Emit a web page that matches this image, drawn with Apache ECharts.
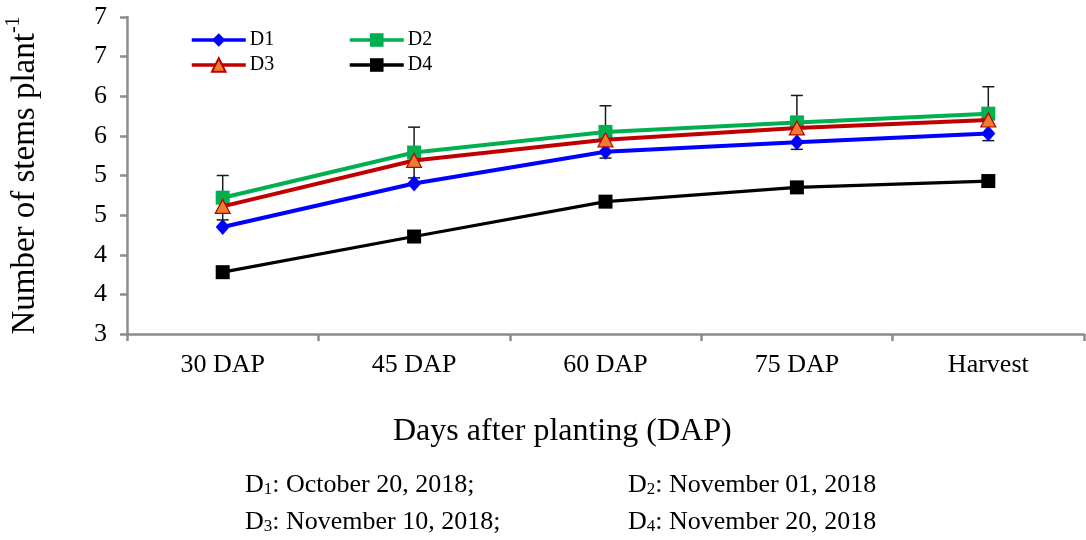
<!DOCTYPE html>
<html>
<head>
<meta charset="utf-8">
<script src="https://cdn.jsdelivr.net/npm/echarts@6/dist/echarts.min.js"></script>
<style>
html,body{margin:0;padding:0;background:#fff;}
#chart{width:1086px;height:540px;}
</style>
</head>
<body>
<div id="chart"></div>
<script>
const categories = ['30 DAP', '45 DAP', '60 DAP', '75 DAP', 'Harvest'];
const d1 = [4.35, 4.90, 5.30, 5.42, 5.53];
const d2 = [4.72, 5.29, 5.55, 5.67, 5.78];
const d3 = [4.61, 5.19, 5.45, 5.60, 5.70];
const d4 = [3.78, 4.23, 4.67, 4.85, 4.93];
const d2Err = [0.28, 0.32, 0.33, 0.34, 0.34];
const yTickLabels = ['3', '4', '4', '5', '5', '6', '6', '7', '7'];
const seriesNames = ['D1', 'D2', 'D3', 'D4'];
const noteLines = [
  ['D', '1', ': October 20, 2018;'],
  ['D', '2', ': November 01, 2018'],
  ['D', '3', ': November 10, 2018;'],
  ['D', '4', ': November 20, 2018']
];

const FONT = "'Liberation Serif', 'Times New Roman', serif";
const AXIS_GRAY = '#8c8c8c';

const chart = echarts.init(document.getElementById('chart'), null, {renderer: 'canvas'});

function legendItem(name, left, top) {
  return {
    data: [name], left: left, top: top, padding: 0,
    itemWidth: 54, itemHeight: 17, itemGap: 0,
    lineStyle: {width: 3.5},
    textStyle: {fontFamily: FONT, fontSize: 20, color: '#000', padding: [0, 0, 0, -1]},
    selectedMode: false
  };
}

const noteRich = {
  m: {fontFamily: FONT, fontSize: 26, fill: '#000', lineHeight: 30, verticalAlign: 'bottom'},
  s: {fontFamily: FONT, fontSize: 17, fill: '#000', lineHeight: 13, verticalAlign: 'bottom'}
};
function noteText(parts, left, top) {
  return {
    type: 'text', left: left, top: top,
    style: {text: '{m|' + parts[0] + '}{s|' + parts[1] + '}{m|' + parts[2] + '}', rich: noteRich}
  };
}

const option = {
  animation: false,
  backgroundColor: '#fff',
  textStyle: {fontFamily: FONT},
  grid: {left: 127, right: 2, top: 17, bottom: 206, containLabel: false, outerBoundsMode: 'none'},
  legend: [
    legendItem(seriesNames[0], 190, 30),
    legendItem(seriesNames[1], 348, 30),
    legendItem(seriesNames[2], 190, 55),
    legendItem(seriesNames[3], 348, 55)
  ],
  xAxis: {
    type: 'category',
    data: categories,
    boundaryGap: true,
    axisLine: {show: true, lineStyle: {color: AXIS_GRAY, width: 2.5}},
    axisTick: {show: true, length: 7, inside: false, lineStyle: {color: AXIS_GRAY, width: 2.5}},
    axisLabel: {fontFamily: FONT, fontSize: 26, color: '#000', margin: 18},
    splitLine: {show: false}
  },
  yAxis: {
    type: 'value',
    min: 3, max: 7, interval: 0.5,
    name: '{m|Number of stems plant}{s|-1}',
    nameLocation: 'middle',
    nameGap: 85,
    nameRotate: 90,
    nameTextStyle: {
      color: '#000', fontFamily: FONT,
      rich: {
        m: {fontFamily: FONT, fontSize: 33, color: '#000', lineHeight: 38, verticalAlign: 'bottom'},
        s: {fontFamily: FONT, fontSize: 20, color: '#000', lineHeight: 38, verticalAlign: 'top'}
      }
    },
    axisLine: {show: true, lineStyle: {color: AXIS_GRAY, width: 2.5}},
    axisTick: {show: true, length: 7, inside: false, lineStyle: {color: AXIS_GRAY, width: 2.5}},
    axisLabel: {
      fontFamily: FONT, fontSize: 26, color: '#000', margin: 20,
      formatter: function (v, i) { return yTickLabels[i]; }
    },
    splitLine: {show: false}
  },
  series: [
    {
      type: 'custom',
      name: 'D2 error',
      z: 1,
      silent: true,
      renderItem: function (params, api) {
        const xi = api.value(0), v = api.value(1), e = api.value(2);
        const top = api.coord([xi, v + e]);
        const bot = api.coord([xi, v - e]);
        const hw = 6;
        const st = {stroke: '#1a1a1a', lineWidth: 1.5};
        return {
          type: 'group',
          children: [
            {type: 'line', shape: {x1: top[0], y1: top[1], x2: bot[0], y2: bot[1]}, style: st},
            {type: 'line', shape: {x1: top[0] - hw, y1: top[1], x2: top[0] + hw, y2: top[1]}, style: st},
            {type: 'line', shape: {x1: bot[0] - hw, y1: bot[1], x2: bot[0] + hw, y2: bot[1]}, style: st}
          ]
        };
      },
      encode: {x: 0, y: 1},
      data: d2.map(function (v, i) { return [i, v, d2Err[i]]; })
    },
    {
      name: seriesNames[3], type: 'line', data: d4, z: 3,
      symbol: 'rect', symbolSize: 14,
      lineStyle: {color: '#000', width: 3.2},
      itemStyle: {color: '#000'}
    },
    {
      name: seriesNames[0], type: 'line', data: d1, z: 4,
      symbol: 'diamond', symbolSize: [14, 16],
      lineStyle: {color: '#0000ff', width: 4},
      itemStyle: {color: '#0000ff'}
    },
    {
      name: seriesNames[1], type: 'line', data: d2, z: 5,
      symbol: 'rect', symbolSize: 14,
      lineStyle: {color: '#00b050', width: 4},
      itemStyle: {color: '#00b050'}
    },
    {
      name: seriesNames[2], type: 'line', data: d3, z: 6,
      symbol: 'triangle', symbolSize: [15, 14],
      lineStyle: {color: '#c00000', width: 4},
      itemStyle: {color: '#ed7d31', borderColor: '#c00000', borderWidth: 1.2}
    }
  ],
  graphic: [
    {
      type: 'text', left: 393, top: 416,
      style: {text: 'Days after planting (DAP)', font: '32px ' + FONT, fill: '#000'}
    },
    noteText(noteLines[0], 245, 472),
    noteText(noteLines[1], 628, 472),
    noteText(noteLines[2], 245, 509),
    noteText(noteLines[3], 628, 509)
  ]
};
chart.setOption(option);
</script>
</body>
</html>
